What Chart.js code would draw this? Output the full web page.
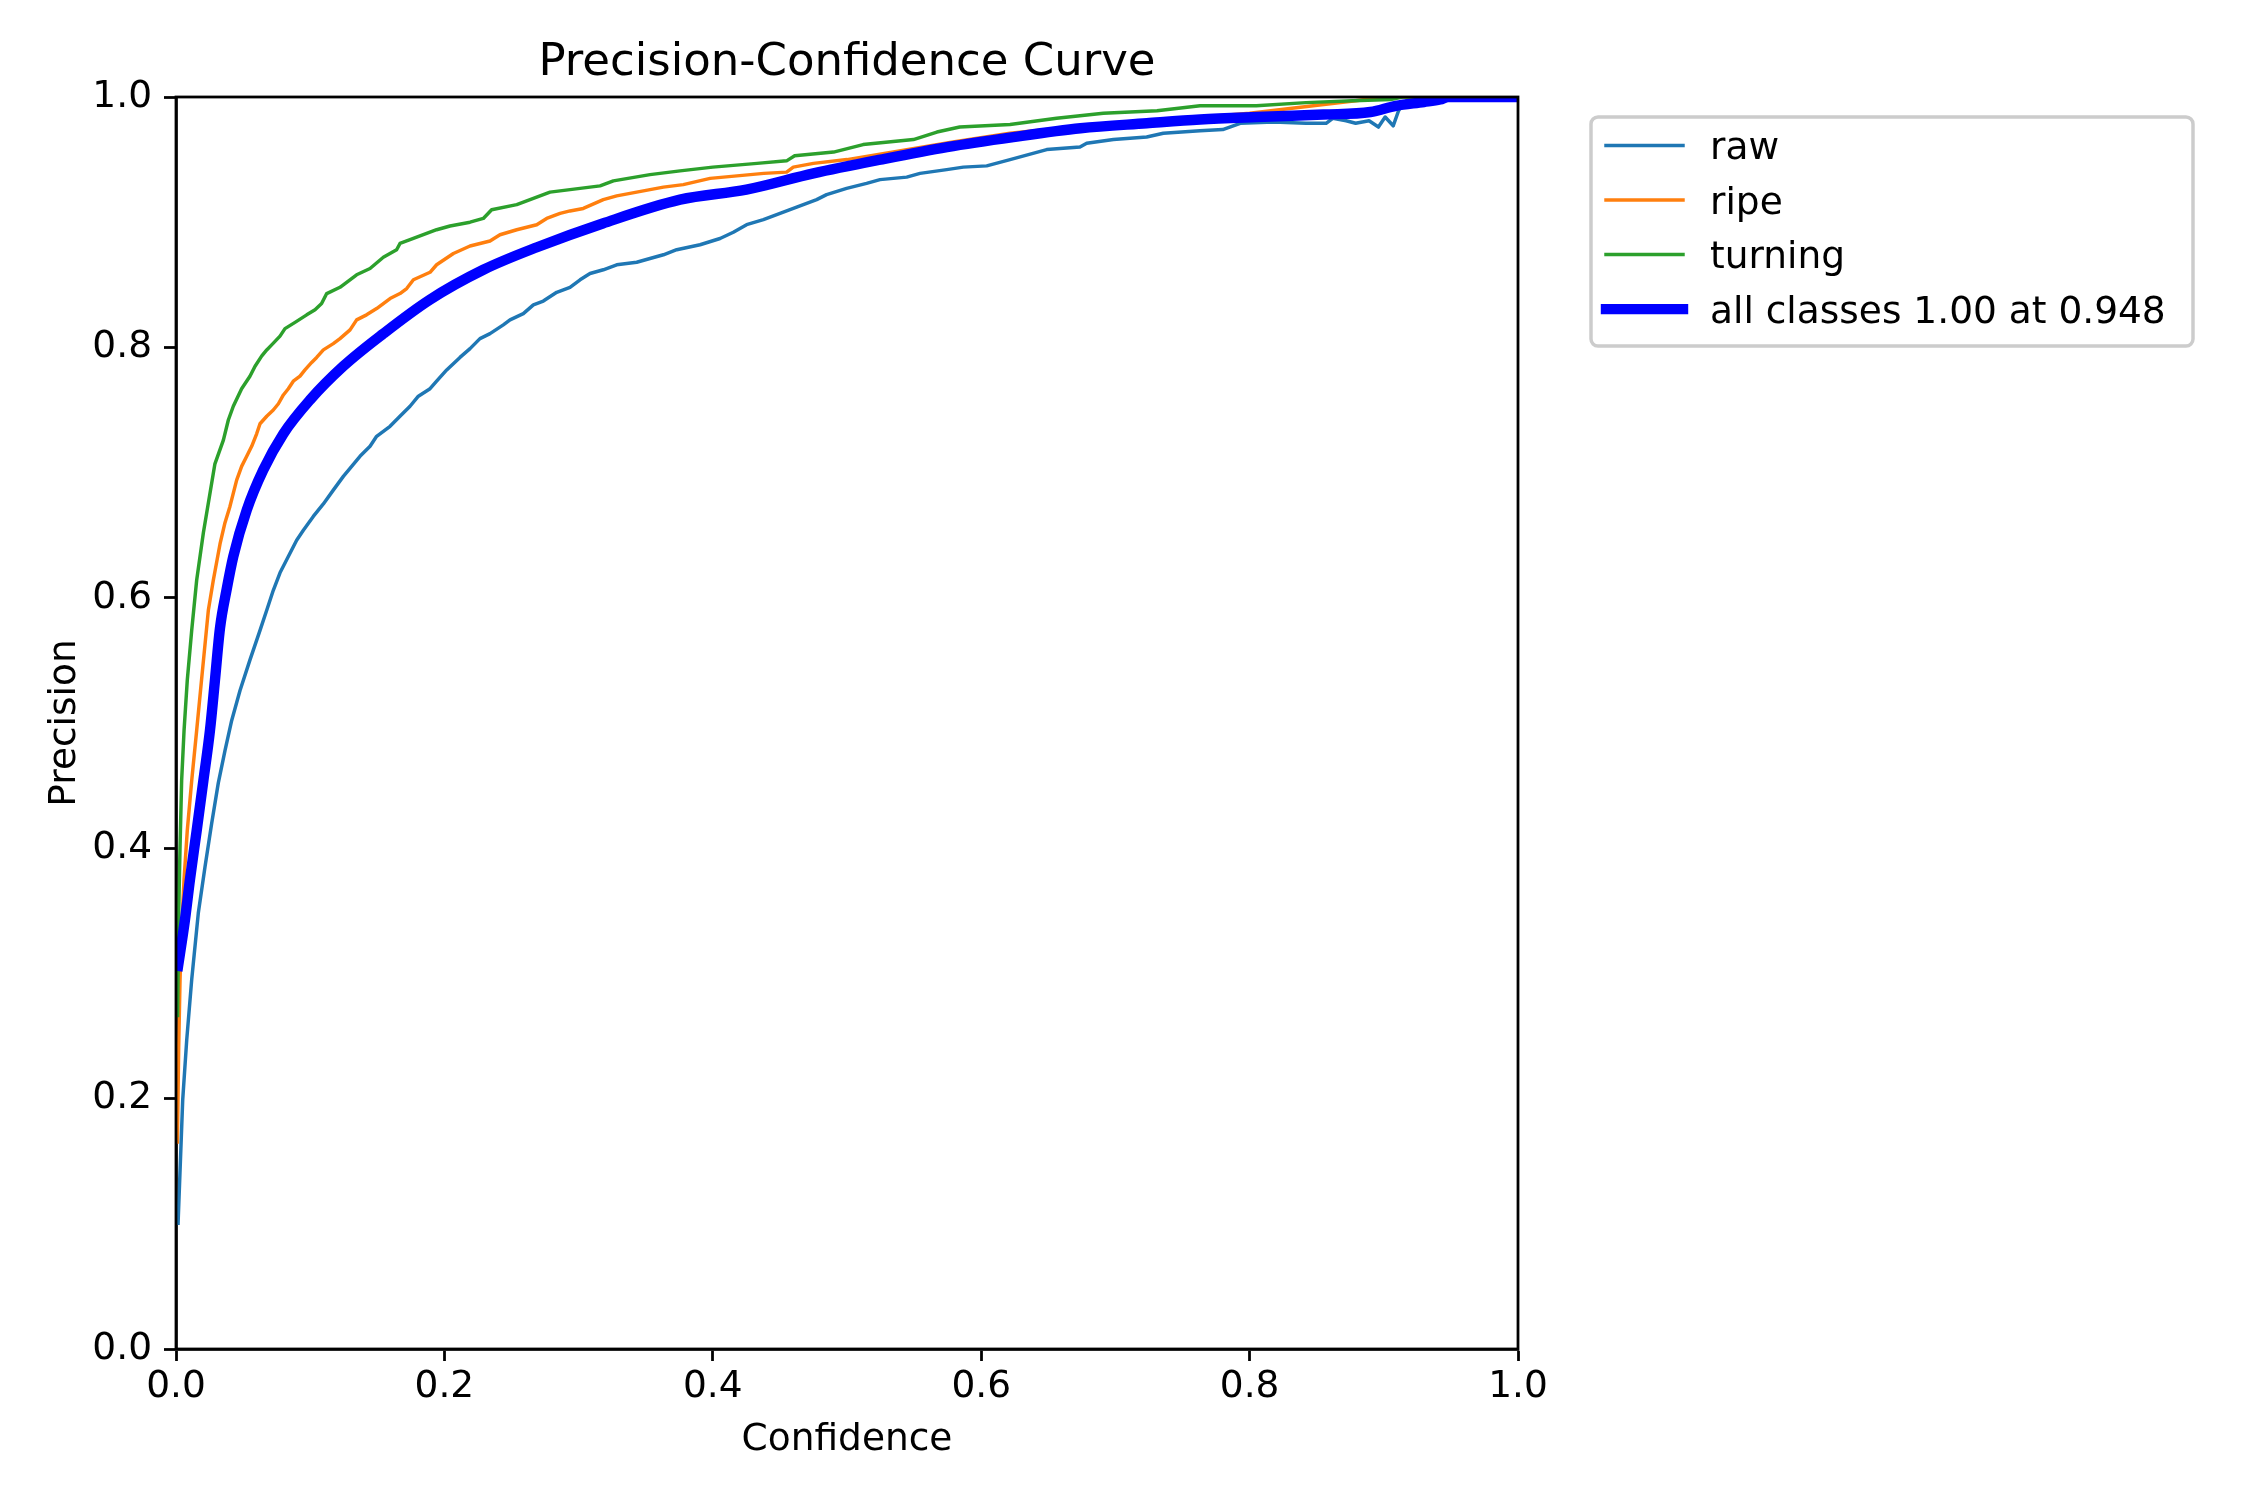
<!DOCTYPE html>
<html>
<head>
<meta charset="utf-8">
<title>Precision-Confidence Curve</title>
<script src="https://cdn.jsdelivr.net/npm/chart.js@4.4.1/dist/chart.umd.min.js"></script>
<style>
  html, body { margin: 0; padding: 0; background: #fff; }
  #wrap { width: 2250px; height: 1500px; }
</style>
</head>
<body>
<div id="wrap"><canvas id="pcChart" width="2250" height="1500"></canvas></div>
<script>
/* ── PRECISION-CONFIDENCE CURVE ── */
const PT = 250 / 72;               // figure is 9x6 in at 250 dpi
const FS = 1.08;                   // text in the reference renders a bit wider
const FONT = '"DejaVu Sans", "Liberation Sans", sans-serif';

const titleText = 'Precision-Confidence Curve';
const xLabel = 'Confidence';
const yLabel = 'Precision';
const xTicks = [0, 0.2, 0.4, 0.6, 0.8, 1.0];
const yTicks = [0, 0.2, 0.4, 0.6, 0.8, 1.0];
const legendLabels = ['raw', 'ripe', 'turning', 'all classes 1.00 at 0.948'];
const colors = ['#1f77b4', '#ff7f0e', '#2ca02c', '#0000ff'];

/* values */
const rawConf = [0.0015, 0.005, 0.008, 0.0117, 0.0166, 0.0216, 0.0266, 0.0315, 0.0365, 0.0415, 0.0477, 0.055, 0.0626,
  0.0676, 0.0725, 0.0775, 0.0837, 0.0899, 0.0949, 0.1023, 0.1098, 0.1172, 0.1247, 0.1309, 0.1371, 0.1446, 0.1495,
  0.1595, 0.1669, 0.1744, 0.1806, 0.1893, 0.1942, 0.2017, 0.2116, 0.2191, 0.2265, 0.2340, 0.2439, 0.2489, 0.2588,
  0.2663, 0.2737, 0.2837, 0.2936, 0.3011, 0.3085, 0.3184, 0.3284, 0.3433, 0.3532, 0.3632, 0.3731, 0.3905, 0.4054,
  0.4153, 0.4252, 0.4377, 0.4501, 0.4625, 0.4774, 0.4848, 0.4997, 0.5146, 0.5246, 0.5445, 0.5544, 0.5743, 0.5867,
  0.6041, 0.6215, 0.6488, 0.6736, 0.6786, 0.6985, 0.7233, 0.7357, 0.7630, 0.780, 0.793, 0.818, 0.842, 0.857,
  0.862, 0.872, 0.879, 0.889, 0.896, 0.901, 0.907, 0.911, 0.914, 0.92, 1.0];
const rawPrec = [0.099, 0.199, 0.247, 0.295, 0.348, 0.385, 0.420, 0.452, 0.478, 0.502, 0.526, 0.550, 0.574,
  0.590, 0.606, 0.620, 0.633, 0.646, 0.654, 0.665, 0.675, 0.686, 0.697, 0.705, 0.713, 0.721, 0.729,
  0.737, 0.745, 0.753, 0.761, 0.767, 0.773, 0.782, 0.792, 0.799, 0.807, 0.811, 0.818, 0.822, 0.827,
  0.834, 0.837, 0.844, 0.848, 0.854, 0.859, 0.862, 0.866, 0.868, 0.871, 0.874, 0.878, 0.882, 0.887,
  0.892, 0.898, 0.902, 0.907, 0.912, 0.918, 0.922, 0.927, 0.931, 0.934, 0.936, 0.939, 0.942, 0.944,
  0.945, 0.950, 0.958, 0.960, 0.963, 0.966, 0.968, 0.971, 0.973, 0.974, 0.979, 0.980, 0.979, 0.979,
  0.983, 0.981, 0.979, 0.981, 0.976, 0.984, 0.977, 0.989, 0.994, 1.0, 1.0];

const ripeConf = [0.001, 0.002, 0.003, 0.0042, 0.006, 0.0084, 0.0117, 0.0154, 0.019, 0.0241, 0.0278, 0.0328, 0.0365,
  0.0402, 0.0452, 0.0489, 0.0527, 0.0564, 0.0601, 0.0626, 0.0676, 0.0725, 0.0763, 0.0800, 0.0837, 0.0874, 0.0924,
  0.0961, 0.1011, 0.1048, 0.1098, 0.1172, 0.1222, 0.1297, 0.1346, 0.1420, 0.1495, 0.1595, 0.1669, 0.1719, 0.1769,
  0.1893, 0.1942, 0.2067, 0.2191, 0.2340, 0.2414, 0.2539, 0.2688, 0.2762, 0.2862, 0.2936, 0.3035, 0.3184, 0.3284,
  0.3433, 0.3632, 0.3780, 0.398, 0.438, 0.455, 0.460, 0.475, 0.500, 0.579, 0.6215, 0.649, 0.72, 0.80, 0.879,
  0.90, 1.0];
const ripePrec = [0.164, 0.241, 0.295, 0.335, 0.375, 0.414, 0.454, 0.494, 0.534, 0.590, 0.614, 0.643, 0.660,
  0.673, 0.694, 0.705, 0.713, 0.721, 0.731, 0.739, 0.745, 0.750, 0.755, 0.762, 0.767, 0.773, 0.777,
  0.782, 0.788, 0.792, 0.798, 0.803, 0.807, 0.814, 0.822, 0.826, 0.831, 0.839, 0.843, 0.847, 0.854,
  0.860, 0.866, 0.875, 0.881, 0.885, 0.890, 0.894, 0.898, 0.903, 0.907, 0.909, 0.911, 0.918, 0.921,
  0.924, 0.928, 0.930, 0.935, 0.939, 0.940, 0.944, 0.947, 0.950, 0.964, 0.971, 0.974, 0.980, 0.987, 0.997,
  1.0, 1.0];

const turningConf = [0.0012, 0.002, 0.003, 0.0042, 0.006, 0.0084, 0.0117, 0.0154, 0.0204, 0.029, 0.0353, 0.0390,
  0.0427, 0.0489, 0.0551, 0.0589, 0.0638, 0.0676, 0.0713, 0.0775, 0.0812, 0.0887, 0.0974, 0.1036, 0.1085, 0.1123,
  0.1222, 0.1346, 0.1446, 0.1545, 0.1644, 0.1669, 0.1744, 0.1942, 0.2042, 0.2191, 0.2290, 0.2352, 0.2539, 0.2787,
  0.2936, 0.3160, 0.3259, 0.3532, 0.3756, 0.400, 0.433, 0.455, 0.461, 0.490, 0.512, 0.5495, 0.567, 0.584, 0.6215,
  0.6562, 0.691, 0.731, 0.7631, 0.805, 0.842, 0.877, 0.905, 0.914, 1.0];
const turningPrec = [0.265, 0.348, 0.401, 0.454, 0.494, 0.534, 0.574, 0.614, 0.652, 0.707, 0.726, 0.742,
  0.753, 0.767, 0.777, 0.785, 0.793, 0.798, 0.802, 0.809, 0.815, 0.820, 0.826, 0.830, 0.835, 0.843,
  0.848, 0.858, 0.863, 0.872, 0.878, 0.883, 0.886, 0.894, 0.897, 0.900, 0.903, 0.910, 0.914, 0.924,
  0.926, 0.929, 0.933, 0.938, 0.941, 0.944, 0.947, 0.949, 0.953, 0.956, 0.962, 0.966, 0.972, 0.976, 0.978,
  0.983, 0.987, 0.989, 0.993, 0.993, 0.9955, 0.997, 0.998, 1.0, 1.0];

const allConf = [0.001, 0.0067, 0.0104, 0.0154, 0.0204, 0.0253, 0.029, 0.0328, 0.0378, 0.0427, 0.0527, 0.065, 0.080,
  0.0998, 0.1247, 0.1545, 0.189, 0.229, 0.269, 0.318, 0.3756, 0.425, 0.475, 0.525, 0.5745, 0.6239, 0.674,
  0.7234, 0.7631, 0.805, 0.855, 0.890, 0.909, 0.930, 0.942, 0.948, 1.0];
const allPrec = [0.302, 0.343, 0.375, 0.414, 0.454, 0.494, 0.534, 0.576, 0.607, 0.633, 0.670, 0.702, 0.731,
  0.758, 0.785, 0.811, 0.838, 0.862, 0.880, 0.899, 0.918, 0.926, 0.939, 0.950, 0.960, 0.968, 0.975,
  0.979, 0.982, 0.984, 0.986, 0.988, 0.993, 0.996, 0.998, 1.0, 1.0];

const pts = (cs, ps) => cs.map((c, i) => ({ x: c, y: ps[i] }));

/* Frame, title, axis labels and legend, drawn like matplotlib */
const decorations = {
  id: 'decorations',
  beforeDraw(chart) {
    const { ctx, width, height } = chart;
    ctx.save(); ctx.fillStyle = '#fff'; ctx.fillRect(0, 0, width, height); ctx.restore();
  },
  afterDraw(chart) {
    const { ctx, chartArea: a } = chart;
    const midX = (a.left + a.right) / 2;
    ctx.save();
    ctx.strokeStyle = '#000'; ctx.lineWidth = 0.8 * PT;
    ctx.strokeRect(a.left, a.top, a.right - a.left, a.bottom - a.top);

    ctx.fillStyle = '#000'; ctx.textAlign = 'center'; ctx.textBaseline = 'alphabetic';
    ctx.font = `${12 * PT * FS}px ${FONT}`;
    ctx.fillText(titleText, midX, a.top - 22);

    ctx.font = `${10 * PT * FS}px ${FONT}`;
    ctx.fillText(xLabel, midX, 1450);
    ctx.save();
    ctx.translate(75, (a.top + a.bottom) / 2); ctx.rotate(-Math.PI / 2);
    ctx.fillText(yLabel, 0, 0);
    ctx.restore();

    // legend box
    ctx.beginPath();
    ctx.roundRect(1591, 117, 602, 229, 7);
    ctx.fillStyle = 'rgba(255,255,255,0.8)'; ctx.fill();
    ctx.strokeStyle = '#cccccc'; ctx.lineWidth = PT; ctx.stroke();

    ctx.textAlign = 'left';
    legendLabels.forEach((lab, i) => {
      const y = 145.6 + i * 54.5;
      const thick = i === 3;
      ctx.beginPath();
      ctx.moveTo(1606, y); ctx.lineTo(1683, y);
      ctx.lineCap = 'square';
      ctx.lineWidth = thick ? 3 * PT : PT;
      ctx.strokeStyle = colors[i];
      ctx.stroke();
      ctx.fillStyle = '#000';
      ctx.fillText(lab, 1710, y + 13.5);
    });
    ctx.restore();
  }
};

const tickFont = { family: FONT, size: 10 * PT * FS };
const gridOpts = { drawOnChartArea: false, tickLength: 12, tickColor: '#000', tickWidth: 0.8 * PT };
const borderOpts = { color: '#000', width: 0.8 * PT };

const lineSet = (i, xs, ys, order) => ({
  label: legendLabels[i], data: pts(xs, ys), borderColor: colors[i],
  borderWidth: i === 3 ? 3 * PT : PT, order, clip: 0,
  pointRadius: 0, fill: false, borderJoinStyle: 'round', borderCapStyle: 'butt',
  tension: 0, cubicInterpolationMode: i === 3 ? 'monotone' : 'default',
});

new Chart(document.getElementById('pcChart'), {
  type: 'line',
  data: {
    datasets: [
      lineSet(3, allConf, allPrec, 0),
      lineSet(2, turningConf, turningPrec, 1),
      lineSet(1, ripeConf, ripePrec, 2),
      lineSet(0, rawConf, rawPrec, 3),
    ]
  },
  options: {
    responsive: false, animation: false, devicePixelRatio: 1,
    layout: { padding: { left: 0, top: 97, right: 732, bottom: 0 } },
    plugins: { legend: { display: false }, tooltip: { enabled: false }, title: { display: false } },
    scales: {
      x: {
        type: 'linear', min: 0, max: 1,
        afterBuildTicks: s => { s.ticks = xTicks.map(v => ({ value: v })); },
        afterFit: s => { s.height = 151; },
        ticks: { callback: v => v.toFixed(1), font: tickFont, color: '#000', padding: 4, maxRotation: 0, autoSkip: false },
        grid: gridOpts, border: borderOpts,
      },
      y: {
        type: 'linear', min: 0, max: 1,
        afterBuildTicks: s => { s.ticks = yTicks.map(v => ({ value: v })); },
        afterFit: s => { s.width = 176; },
        ticks: { callback: v => v.toFixed(1), font: tickFont, color: '#000', padding: 12, autoSkip: false },
        grid: gridOpts, border: borderOpts,
      },
    },
  },
  plugins: [decorations],
});
</script>
</body>
</html>
